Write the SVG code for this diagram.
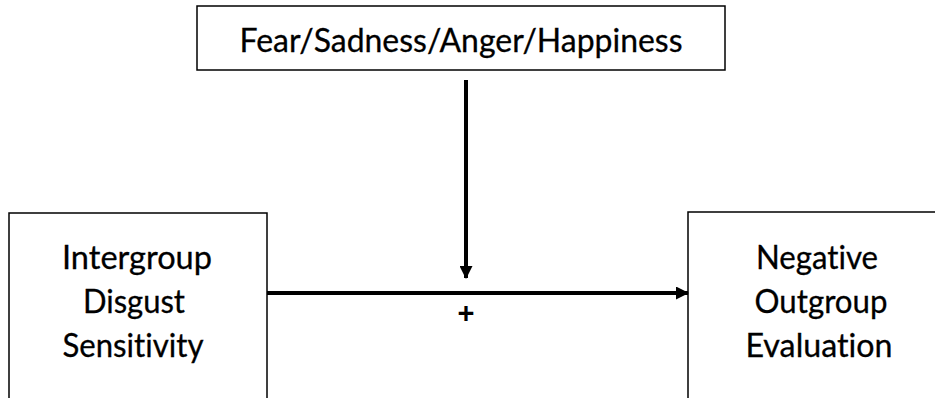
<svg xmlns="http://www.w3.org/2000/svg" width="935" height="398" viewBox="0 0 935 398">
<defs>
<style>
.box{fill:#fff;stroke:#000;stroke-width:1.5}
.t{font-family:Lato,"Liberation Sans",Arial,sans-serif;font-size:32.5px;fill:#000;text-anchor:middle;font-variant-ligatures:none;stroke:#000;stroke-width:0.3}
.ln{stroke:#000;stroke-width:4;fill:none}
.plus{font-family:"Liberation Sans",Arial,sans-serif;font-size:29px;font-weight:bold;fill:#000;text-anchor:middle}
</style>
<marker id="ah" markerWidth="13" markerHeight="13" refX="12" refY="6.5" orient="auto" markerUnits="userSpaceOnUse">
<path d="M0,0 L13,6.5 L0,13 Z" fill="#000"/>
</marker>
</defs>
<g id="moderator">
<rect class="box" x="197" y="6" width="528" height="64"/>
<text class="t" x="461" y="52" textLength="443" lengthAdjust="spacingAndGlyphs">Fear/Sadness/Anger/Happiness</text>
</g>
<g id="predictor">
<rect class="box" x="9" y="213" width="258" height="200"/>
<text class="t" x="137" y="269" textLength="150" lengthAdjust="spacingAndGlyphs">Intergroup</text>
<text class="t" x="134" y="313" textLength="102" lengthAdjust="spacingAndGlyphs">Disgust</text>
<text class="t" x="133" y="357" textLength="141" lengthAdjust="spacingAndGlyphs">Sensitivity</text>
</g>
<g id="outcome">
<rect class="box" x="688" y="212" width="260" height="200"/>
<text class="t" x="817" y="269" textLength="122" lengthAdjust="spacingAndGlyphs">Negative</text>
<text class="t" x="821" y="313" textLength="133" lengthAdjust="spacingAndGlyphs">Outgroup</text>
<text class="t" x="819" y="357" textLength="147" lengthAdjust="spacingAndGlyphs">Evaluation</text>
</g>
<g id="connectors">
<line class="ln" x1="466" y1="80" x2="466" y2="278" marker-end="url(#ah)"/>
<line class="ln" x1="267" y1="293" x2="688" y2="293" marker-end="url(#ah)"/>
<text class="plus" x="466" y="323">+</text>
</g>
</svg>
